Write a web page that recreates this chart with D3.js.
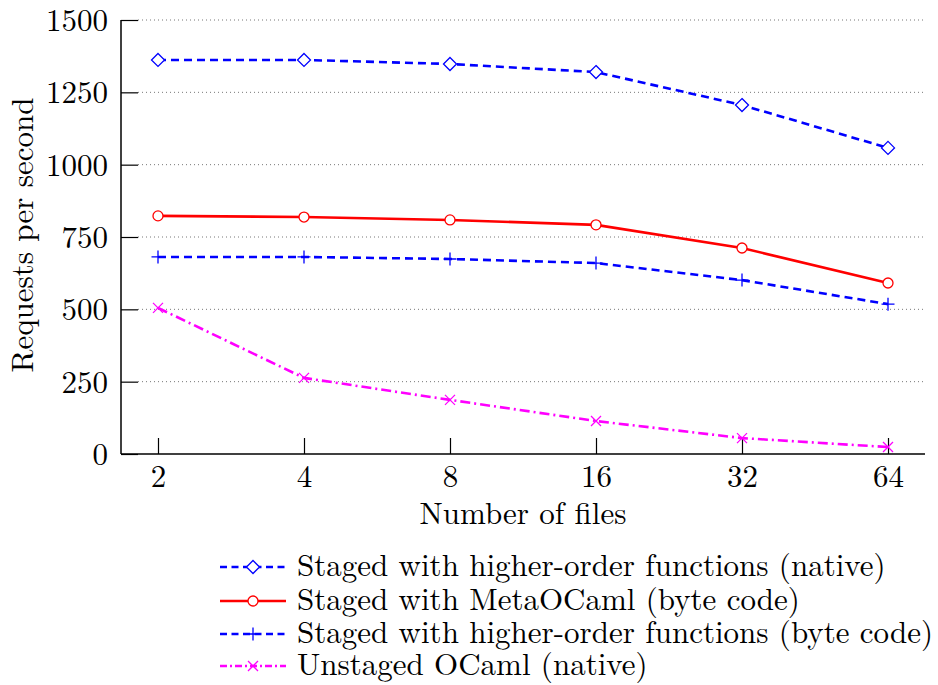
<!DOCTYPE html>
<html><head><meta charset="utf-8">
<script src="https://cdn.jsdelivr.net/npm/d3@7"></script>
<style>
body{margin:0;background:#fff;}
</style></head>
<body><svg id="c" width="938" height="685"></svg>
<script>
const files = [2, 4, 8, 16, 32, 64];
const yTicks = [0, 250, 500, 750, 1000, 1250, 1500];
const nativeHOF = [1362, 1362, 1348, 1320, 1206, 1058];
const metaOCaml = [823, 819, 809, 792, 712, 591];
const bytecodeHOF = [681, 681, 674, 660, 601, 518];
const unstaged = [505, 263, 187, 114, 55, 24];
const seriesNames = [
  "Staged with higher-order functions (native)",
  "Staged with MetaOCaml (byte code)",
  "Staged with higher-order functions (byte code)",
  "Unstaged OCaml (native)"
];

const FONT = '"Latin Modern Roman", "Liberation Serif", serif';
const FS = 31;

const series = [
  {name: seriesNames[0], values: nativeHOF, color: "#0000ff", dash: "8,5", marker: "diamond"},
  {name: seriesNames[1], values: metaOCaml, color: "#ff0000", dash: null, marker: "circle"},
  {name: seriesNames[2], values: bytecodeHOF, color: "#0000ff", dash: "8,5", marker: "plus"},
  {name: seriesNames[3], values: unstaged, color: "#ff00ff", dash: "10,4,2,4", marker: "cross"}
];

const svg = d3.select("#c");
const L = 121, R = 925, T = 20, B = 454;
const x = d3.scaleLog().base(2).domain([2 / Math.pow(2, 0.2534), 64 * Math.pow(2, 0.2534)]).range([L, R]);
const y = d3.scaleLinear().domain([0, 1500]).range([B, T]);

// grid
svg.append("g").selectAll("line").data(yTicks.filter(d => d > 0)).join("line")
  .attr("x1", L + 17).attr("x2", R - 2)
  .attr("y1", d => y(d)).attr("y2", d => y(d))
  .attr("stroke", "#777").attr("stroke-width", 1).attr("stroke-dasharray", "1,3");

// y axis
const ya = svg.append("g").attr("transform", `translate(${L},0)`)
  .call(d3.axisLeft(y).tickValues(yTicks).tickSize(-17).tickFormat(d3.format("d")));
ya.select(".domain").attr("stroke", "#000").attr("stroke-width", 1.5).attr("d", `M0,${T}V${B}`);
ya.selectAll(".tick line").attr("stroke", "#000").attr("stroke-width", 1.2);
ya.selectAll(".tick text").style("font-family", FONT).style("font-size", FS + "px").attr("x", -13).attr("dy", "0.34em");

// x axis
const xa = svg.append("g").attr("transform", `translate(0,${B})`)
  .call(d3.axisBottom(x).tickValues(files).tickSize(-16).tickFormat(d3.format("d")));
xa.select(".domain").attr("stroke", "#000").attr("stroke-width", 1.5).attr("d", `M${L},0H${R}`);
xa.selectAll(".tick line").attr("stroke", "#000").attr("stroke-width", 1.2);
xa.selectAll(".tick text").style("font-family", FONT).style("font-size", FS + "px").attr("y", 33).attr("dy", null);

// axis titles
svg.append("text").attr("x", 523).attr("y", 524).attr("text-anchor", "middle")
  .style("font-family", FONT).style("font-size", FS + "px").text("Number of files");
svg.append("text").attr("transform", `translate(33,${(T + B) / 2 - 2}) rotate(-90)`).attr("text-anchor", "middle")
  .style("font-family", FONT).style("font-size", FS + "px").text("Requests per second");

function drawMarker(g, type, cx, cy, color) {
  if (type === "diamond") {
    g.append("path").attr("d", `M${cx},${cy - 6.5}L${cx + 6.5},${cy}L${cx},${cy + 6.5}L${cx - 6.5},${cy}Z`)
      .attr("fill", "#fff").attr("stroke", color).attr("stroke-width", 1.3);
  } else if (type === "circle") {
    g.append("circle").attr("cx", cx).attr("cy", cy).attr("r", 5)
      .attr("fill", "#fff").attr("stroke", color).attr("stroke-width", 1.3);
  } else if (type === "plus") {
    g.append("path").attr("d", `M${cx - 6.5},${cy}H${cx + 6.5}M${cx},${cy - 6.5}V${cy + 6.5}`)
      .attr("stroke", color).attr("stroke-width", 1.3).attr("fill", "none");
  } else if (type === "cross") {
    g.append("path").attr("d", `M${cx - 5},${cy - 5}L${cx + 5},${cy + 5}M${cx - 5},${cy + 5}L${cx + 5},${cy - 5}`)
      .attr("stroke", color).attr("stroke-width", 1.3).attr("fill", "none");
  }
}

const line = d3.line().x(d => x(d[0])).y(d => y(d[1]));
series.forEach(s => {
  const pts = files.map((f, i) => [f, s.values[i]]);
  const g = svg.append("g");
  g.append("path").datum(pts).attr("d", line).attr("fill", "none")
    .attr("stroke", s.color).attr("stroke-width", 2.6)
    .attr("stroke-dasharray", s.dash);
  pts.forEach(p => drawMarker(g, s.marker, x(p[0]), y(p[1]), s.color));
});

// legend
const lg = svg.append("g");
const rowY = [567, 601, 634, 666];
series.forEach((s, i) => {
  const yy = rowY[i];
  lg.append("line").attr("x1", 220).attr("x2", 286).attr("y1", yy).attr("y2", yy)
    .attr("stroke", s.color).attr("stroke-width", 2.6).attr("stroke-dasharray", s.dash ? (s.marker === "cross" ? "7,3,2,3" : "7,4.5") : null);
  drawMarker(lg, s.marker, 253, yy, s.color);
  lg.append("text").attr("x", 297).attr("y", yy + 9)
    .style("font-family", FONT).style("font-size", FS + "px").text(s.name);
});
</script></body></html>
